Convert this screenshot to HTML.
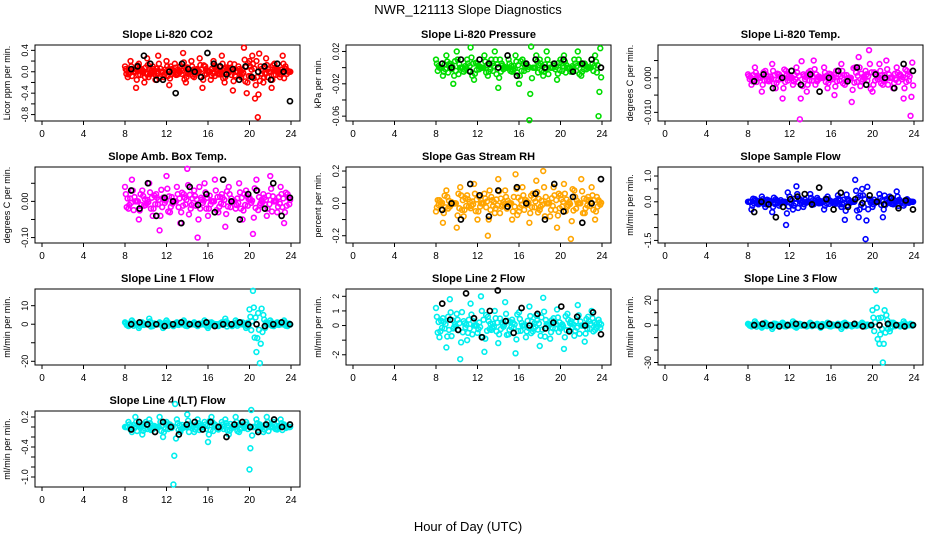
<!DOCTYPE html>
<html><head><meta charset="utf-8"><style>
body{margin:0;background:#fff}
svg{display:block;font-family:"Liberation Sans",sans-serif}
</style></head><body>
<svg id="c" width="936" height="540">
<text x="468" y="14" text-anchor="middle" font-size="13">NWR_121113  Slope Diagnostics</text>
<text x="468" y="531" text-anchor="middle" font-size="13">Hour of Day (UTC)</text>
</svg>
<script>
const hourTicks=[0,4,8,12,16,20,24];
const co2Vals=[0.1,-0.1,0.2,0.0,-0.3,0.15,0.05,-0.2,0.25,-0.05,0.1,-0.15,0.3,0.0,-0.1,0.2,-0.25,0.05,0.15,-0.05,0.1,0.35,-0.2,0.0,0.2,-0.1,0.05,0.25,-0.3,0.1,0.0,-0.15,0.2,0.1,-0.05,0.3,-0.2,0.05,0.15,-0.35,0.0,0.1,-0.1,0.45,-0.4,0.2,0.3,-0.5,-0.85,0.1,-0.2,0.25,0.0,-0.3,0.15,0.05,-0.1,0.3,0.1,0.0];
const co2Black=[0.05,0.1,0.3,0.15,-0.15,-0.15,0.0,-0.4,0.15,0.05,0.0,-0.1,0.35,0.15,0.1,-0.05,0.05,-0.15,0.1,-0.1,0.0,0.1,-0.15,0.15,0.0,-0.55];
const presVals=[0.01,0.0,-0.01,0.015,0.005,-0.02,0.02,0.0,-0.005,0.01,0.025,-0.015,0.005,0.0,0.015,-0.01,0.01,0.02,-0.025,0.005,0.0,0.01,-0.005,0.015,-0.02,0.01,0.005,-0.065,0.0,0.015,0.01,-0.01,0.02,0.0,0.005,-0.015,0.01,0.015,0.0,-0.005,0.01,0.02,-0.01,0.005,0.0,0.01,0.015,-0.06];
const presBlack=[0.005,0.0,0.01,-0.005,0.01,0.005,0.0,0.015,-0.01,0.005,0.01,0.0,0.005,0.01,-0.005,0.005,0.01,0.0];
const tempVals=[0.001,-0.002,0.003,0.0,-0.004,0.002,-0.001,0.004,-0.003,0.001,-0.006,0.002,0.0,-0.002,0.003,-0.012,0.001,-0.004,0.002,0.005,-0.001,0.0,0.003,-0.003,0.001,-0.005,0.002,0.004,-0.002,0.0,-0.007,0.003,0.006,-0.001,0.002,0.008,-0.004,0.001,0.004,-0.002,0.005,0.0,-0.003,0.003,0.001,-0.006,0.002,-0.011];
const tempBlack=[-0.001,0.001,-0.003,0.0,0.002,-0.002,0.001,-0.004,0.0,0.002,-0.001,0.003,-0.002,0.001,0.0,-0.003,0.004,0.002];
const ambVals=[0.04,-0.02,0.06,0.0,-0.05,0.03,-0.01,0.05,-0.04,0.02,-0.08,0.01,0.07,-0.03,0.0,0.04,-0.06,0.02,0.09,-0.02,0.03,-0.1,0.01,0.05,-0.04,0.0,0.06,-0.03,0.02,-0.07,0.04,0.0,-0.02,0.05,-0.05,0.03,0.01,-0.09,0.06,-0.01,0.02,-0.04,0.07,0.0,-0.03,0.04,-0.06,0.02];
const ambBlack=[0.03,-0.02,0.05,-0.04,0.01,0.0,-0.06,0.04,-0.01,0.02,-0.03,0.06,0.0,-0.05,0.02,0.03,-0.02,0.05,-0.04,0.01];
const rhVals=[-0.05,0.02,-0.12,0.08,-0.02,0.0,-0.15,0.1,-0.08,0.05,-0.03,0.12,-0.1,0.0,0.06,-0.2,0.04,-0.06,0.15,-0.02,0.08,0.0,-0.1,0.18,-0.05,0.1,0.02,-0.12,0.06,0.14,-0.04,0.2,0.0,-0.08,0.1,-0.15,0.05,0.12,-0.02,-0.22,0.08,0.0,0.15,-0.06,0.04,0.1,-0.1,0.02];
const rhBlack=[-0.04,0.0,-0.1,0.12,0.05,-0.08,0.08,-0.02,0.1,0.0,0.06,-0.1,0.12,-0.05,0.04,-0.12,0.0,0.15];
const sfVals=[0.0,-0.3,0.1,-0.1,0.2,-0.2,0.05,-0.4,0.1,-0.15,0.0,-0.9,0.2,-0.3,0.6,0.1,-0.2,0.0,0.3,-0.1,0.15,-0.05,-0.3,0.2,0.0,-0.1,0.25,-0.2,-0.7,0.1,0.0,0.85,-0.6,0.5,-1.45,0.1,-0.2,0.0,0.3,-0.6,0.1,0.2,-0.1,0.4,0.0,-0.15,0.1,0.0];
const sfBlack=[-0.4,0.0,-0.1,-0.6,-0.2,0.1,0.2,0.3,-0.1,0.55,0.1,-0.3,0.35,-0.2,0.1,-0.05,0.25,0.0,-0.1,0.15,-0.25,0.05,-0.3];
const l1Vals=[1,-1,2,0,-2,1,0,3,-1,0,1,-2,2,0,-1,1,0,2,-1,0,1,-1,0,2,-2,1,0,-1,1,3,0,-1,2,0,1,-2,8,18,-15,-21,5,0,2,-1,1,0,2,-1];
const l1Black=[0,1,0,0,-1,0,1,0,0,1,-1,0,0,1,0,0,-1,0,1,0];
const l2Vals=[1.2,-0.8,0.5,-1.5,1.8,-0.2,0.8,-2.3,0.3,-1.0,1.5,0.0,-0.5,2.0,-1.8,0.6,-0.3,1.0,-1.2,0.2,1.6,-0.6,0.4,-1.9,0.9,0.0,-0.8,1.3,-0.4,0.7,-1.4,1.9,0.1,-0.9,0.5,1.1,-0.2,-1.6,0.8,0.3,-0.7,1.4,0.0,-1.1,0.6,1.0,-0.3,0.4];
const l2Black=[1.5,0.4,-0.3,2.2,0.5,-0.8,1.0,2.4,0.3,-0.5,1.2,0.0,0.8,-0.2,0.2,1.3,-0.4,0.6,0.0,0.9,-0.6];
const l3Vals=[1,-1,3,0,-2,2,0,-3,1,0,2,-1,0,3,-2,1,0,-1,2,0,1,-2,0,2,-1,0,1,-3,2,0,-1,1,0,2,-1,0,12,28,-15,-30,8,-5,2,0,-1,3,0,1];
const l3Black=[0,1,0,-1,0,1,0,0,-1,1,0,0,1,-1,0,0,1,0,-1,0];
const l4Vals=[0.0,0.1,-0.1,0.2,0.05,-0.15,0.1,0.15,-0.05,0.0,0.2,-0.2,0.1,0.05,-1.15,0.15,-0.1,0.0,0.25,0.05,-0.1,0.15,0.0,0.1,-0.3,0.2,0.05,-0.05,0.1,0.15,-0.15,0.0,0.2,-0.1,0.05,0.1,-0.85,0.0,0.15,0.05,-0.1,0.2,0.0,0.1,-0.05,0.15,0.05,0.0];
const l4Black=[-0.05,0.1,0.05,-0.1,0.1,0.0,-0.15,0.05,0.1,-0.05,0.1,0.0,-0.2,0.05,0.1,0.0,-0.1,0.05,0.15,0.0,0.05];
const co2Ticks=[-0.8,-0.6,-0.4,-0.2,0,0.2,0.4], co2Labels=["-0.8","","-0.4","","0.0","","0.4"];
const presTicks=[-0.06,-0.04,-0.02,0,0.02], presLabels=["-0.06","","-0.02","","0.02"];
const tempTicks=[-0.01,-0.005,0,0.005], tempLabels=["-0.010","","0.000",""];
const ambTicks=[-0.1,-0.05,0,0.05], ambLabels=["-0.10","","0.00",""];
const rhTicks=[-0.2,-0.1,0,0.1,0.2], rhLabels=["-0.2","","0.0","","0.2"];
const sfTicks=[-1.5,-1,-0.5,0,0.5,1], sfLabels=["-1.5","","","0.0","","1.0"];
const l1Ticks=[-20,-10,0,10], l1Labels=["-20","","0","10"];
const l2Ticks=[-2,-1,0,1,2], l2Labels=["-2","","0","1","2"];
const l3Ticks=[-30,-20,-10,0,10,20], l3Labels=["-30","","","0","","20"];
const l4Ticks=[-1,-0.8,-0.6,-0.4,-0.2,0,0.2], l4Labels=["-1.0","","","-0.4","","","0.2"];
const panels=[
 ["Slope Li-820 CO2","Licor ppm per min.","#ff0000",-0.92,0.5,co2Ticks,co2Labels,co2Vals,co2Black,0,0],
 ["Slope Li-820 Pressure","kPa per min.","#00dd00",-0.066,0.028,presTicks,presLabels,presVals,presBlack,1,0],
 ["Slope Li-820 Temp.","degrees C per min.","#ff00ff",-0.0125,0.0095,tempTicks,tempLabels,tempVals,tempBlack,2,0],
 ["Slope Amb. Box Temp.","degrees C per min.","#ff00ff",-0.115,0.095,ambTicks,ambLabels,ambVals,ambBlack,0,1],
 ["Slope Gas Stream RH","percent per min.","#ffa500",-0.245,0.225,rhTicks,rhLabels,rhVals,rhBlack,1,1],
 ["Slope Sample Flow","ml/min per min.","#0000ff",-1.6,1.35,sfTicks,sfLabels,sfVals,sfBlack,2,1],
 ["Slope Line 1 Flow","ml/min per min.","#00eeee",-22,19,l1Ticks,l1Labels,l1Vals,l1Black,0,2],
 ["Slope Line 2 Flow","ml/min per min.","#00eeee",-2.7,2.5,l2Ticks,l2Labels,l2Vals,l2Black,1,2],
 ["Slope Line 3 Flow","ml/min per min.","#00eeee",-32,29,l3Ticks,l3Labels,l3Vals,l3Black,2,2],
 ["Slope Line 4 (LT) Flow","ml/min per min.","#00eeee",-1.2,0.32,l4Ticks,l4Labels,l4Vals,l4Black,0,3]
];
const svg=document.getElementById('c'), NS='http://www.w3.org/2000/svg';
function mk(tag,at,parent,txt){const e=document.createElementNS(NS,tag);for(const k in at)e.setAttribute(k,at[k]);if(txt!==undefined)e.textContent=txt;(parent||svg).appendChild(e);return e;}
const colL=[35,346,658], rowT=[45,167,289,411], W=265, H=76;
panels.forEach(p=>{
 const [title,ylab,col,ymin,ymax,ticks,labels,vals,blk,ci,ri]=p;
 const L=colL[ci],T=rowT[ri];
 const g=mk('g',{});
 
 
 const xs=v=>L+7+v*249/24, ys=v=>T+H-(v-ymin)/(ymax-ymin)*H;
 const t=mk('text',{x:L+W/2,y:T-7,'text-anchor':'middle','font-size':11,'font-weight':'bold'},g,title);
 
 
 const box=mk('rect',{x:L,y:T,width:W,height:H,fill:'none',stroke:'#000','stroke-width':1},g);
 
 
 hourTicks.forEach(h=>{mk('line',{x1:xs(h),x2:xs(h),y1:T+H,y2:T+H+4,stroke:'#000'},g);
  const tl=mk('text',{x:xs(h),y:T+H+16,'text-anchor':'middle','font-size':10},g,String(h));
  
  });
 ticks.forEach((v,i)=>{mk('line',{x1:L-4,x2:L,y1:ys(v),y2:ys(v),stroke:'#000'},g);
  if(labels[i]){const tl=mk('text',{x:L-7,y:ys(v),'text-anchor':'middle','font-size':9,transform:`rotate(-90 ${L-7} ${ys(v)})`},g,labels[i]);
  
  }});
 const yl=mk('text',{x:L-25,y:T+H/2,'text-anchor':'middle','font-size':9,transform:`rotate(-90 ${L-25} ${T+H/2})`},g,ylab);
 
 
 const n=vals.length;
 vals.forEach((v,i)=>{for(let k=0;k<4;k++){const hx=8+(i+k/4)*16/n;const vv=[v,v*0.5,-v*0.4,v*0.2][k];
  const c=mk('circle',{cx:xs(hx),cy:ys(vv),r:2.4,fill:'none',stroke:col,'stroke-width':1.6},g);
  
  }});
 const m=blk.length;
 blk.forEach((v,i)=>{const hx=8.6+i*15.3/(m-1);
  const c=mk('circle',{cx:xs(hx),cy:ys(v),r:2.5,fill:'none',stroke:'#000','stroke-width':1.7},g);
  
  });
});
</script>
</body></html>
